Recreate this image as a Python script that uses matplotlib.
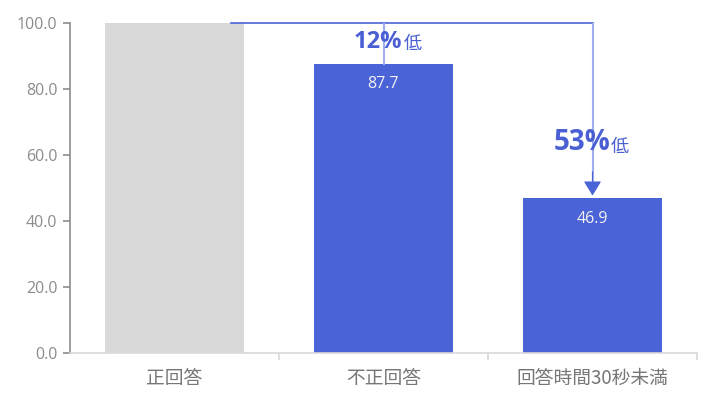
import matplotlib
matplotlib.use("Agg")
import matplotlib.pyplot as plt

plt.rcParams['font.family'] = ['Open Sans', 'Noto Sans CJK JP', 'DejaVu Sans']

categories = ["正回答", "不正回答", "回答時間30秒未満"]
values = [100.0, 87.7, 46.9]
bar_colors = ["#d9d9d9", "#4a63d6", "#4a63d6"]
yticks = [0, 20, 40, 60, 80, 100]
callouts = [("12%", "低"), ("53%", "低")]

fig = plt.figure(figsize=(7.22, 4.08), dpi=100)
ax = fig.add_axes([70/722, 1-353/408, 627/722, 330/408])
x = range(len(categories))
ax.bar(x, values, width=0.665, color=bar_colors, zorder=2)
ax.set_xlim(-0.5, 2.5)
ax.set_ylim(0, 100)
ax.set_yticks(yticks)
ax.set_yticklabels([f"{v:.1f}" for v in yticks], fontsize=11.5, color="#8c8c8c")
ax.set_xticks(list(x))
ax.set_xticklabels(categories, fontsize=13.5, color="#767676",
                   family=['Noto Sans CJK JP', 'DejaVu Sans'])
ax.tick_params(axis='x', length=0, pad=11)
ax.tick_params(axis='y', length=5, color="#8c8c8c", width=1.2, pad=4)
for s in ['top', 'right']:
    ax.spines[s].set_visible(False)
ax.spines['left'].set_color("#8c8c8c")
ax.spines['left'].set_linewidth(1.2)
ax.spines['bottom'].set_color("#d9d9d9")
ax.spines['bottom'].set_linewidth(1.2)
ax.set_xticks([0.5, 1.5, 2.5], minor=True)
ax.tick_params(axis='x', which='minor', length=5, color="#d9d9d9", width=1.2)

# value labels
for i in (1, 2):
    ax.text(i, values[i] - 6.2, f"{values[i]:.1f}", ha='center', va='center',
            fontsize=11.5, color="#f2f2f2", zorder=4)

# connector lines
ax.plot([0.27, 2.0], [values[0], values[0]], color="#4a63d6", lw=1.2,
        zorder=3, clip_on=False)
ax.plot([1.0, 1.0], [values[0], values[1]], color="#a0aef0", lw=1.5, zorder=3)
ax.plot([2.0, 2.0], [values[0], values[2] + 4], color="#a0aef0", lw=1.5, zorder=3)
ax.annotate("", xy=(2.0, values[2] + 0.8), xytext=(2.0, values[2] + 8),
            arrowprops=dict(arrowstyle="-|>,head_length=0.9,head_width=0.55",
                            lw=0.8, shrinkA=0, shrinkB=0, mutation_scale=10,
                            fc="#4a63d6", ec="#4a63d6"), zorder=3)

# callout texts
fig.canvas.draw()
for (big, small), cx, yb, fs in zip(callouts, [1.02, 1.995], [92.5, 61.5], [17, 20]):
    t = ax.text(cx, yb, big, ha='left', va='baseline', fontsize=fs,
                fontweight='bold', color="#4a5fd4", zorder=5)
    t2 = ax.annotate(small, xy=(1, 0), xycoords=t, xytext=(0.5, 0.5),
                     textcoords='offset points', ha='left', va='bottom',
                     fontsize=13, color="#4a5fd4", zorder=5,
                     family=['Noto Sans CJK JP'])
    fig.canvas.draw()
    r = fig.canvas.get_renderer()
    b1 = t.get_window_extent(r)
    b2 = t2.get_window_extent(r)
    w = b2.x1 - b1.x0
    px = ax.transData.transform((cx, yb))[0]
    dx = ax.transData.inverted().transform((px - w / 2, 0))[0]
    t.set_x(dx)

fig.savefig("out.png", dpi=100)
